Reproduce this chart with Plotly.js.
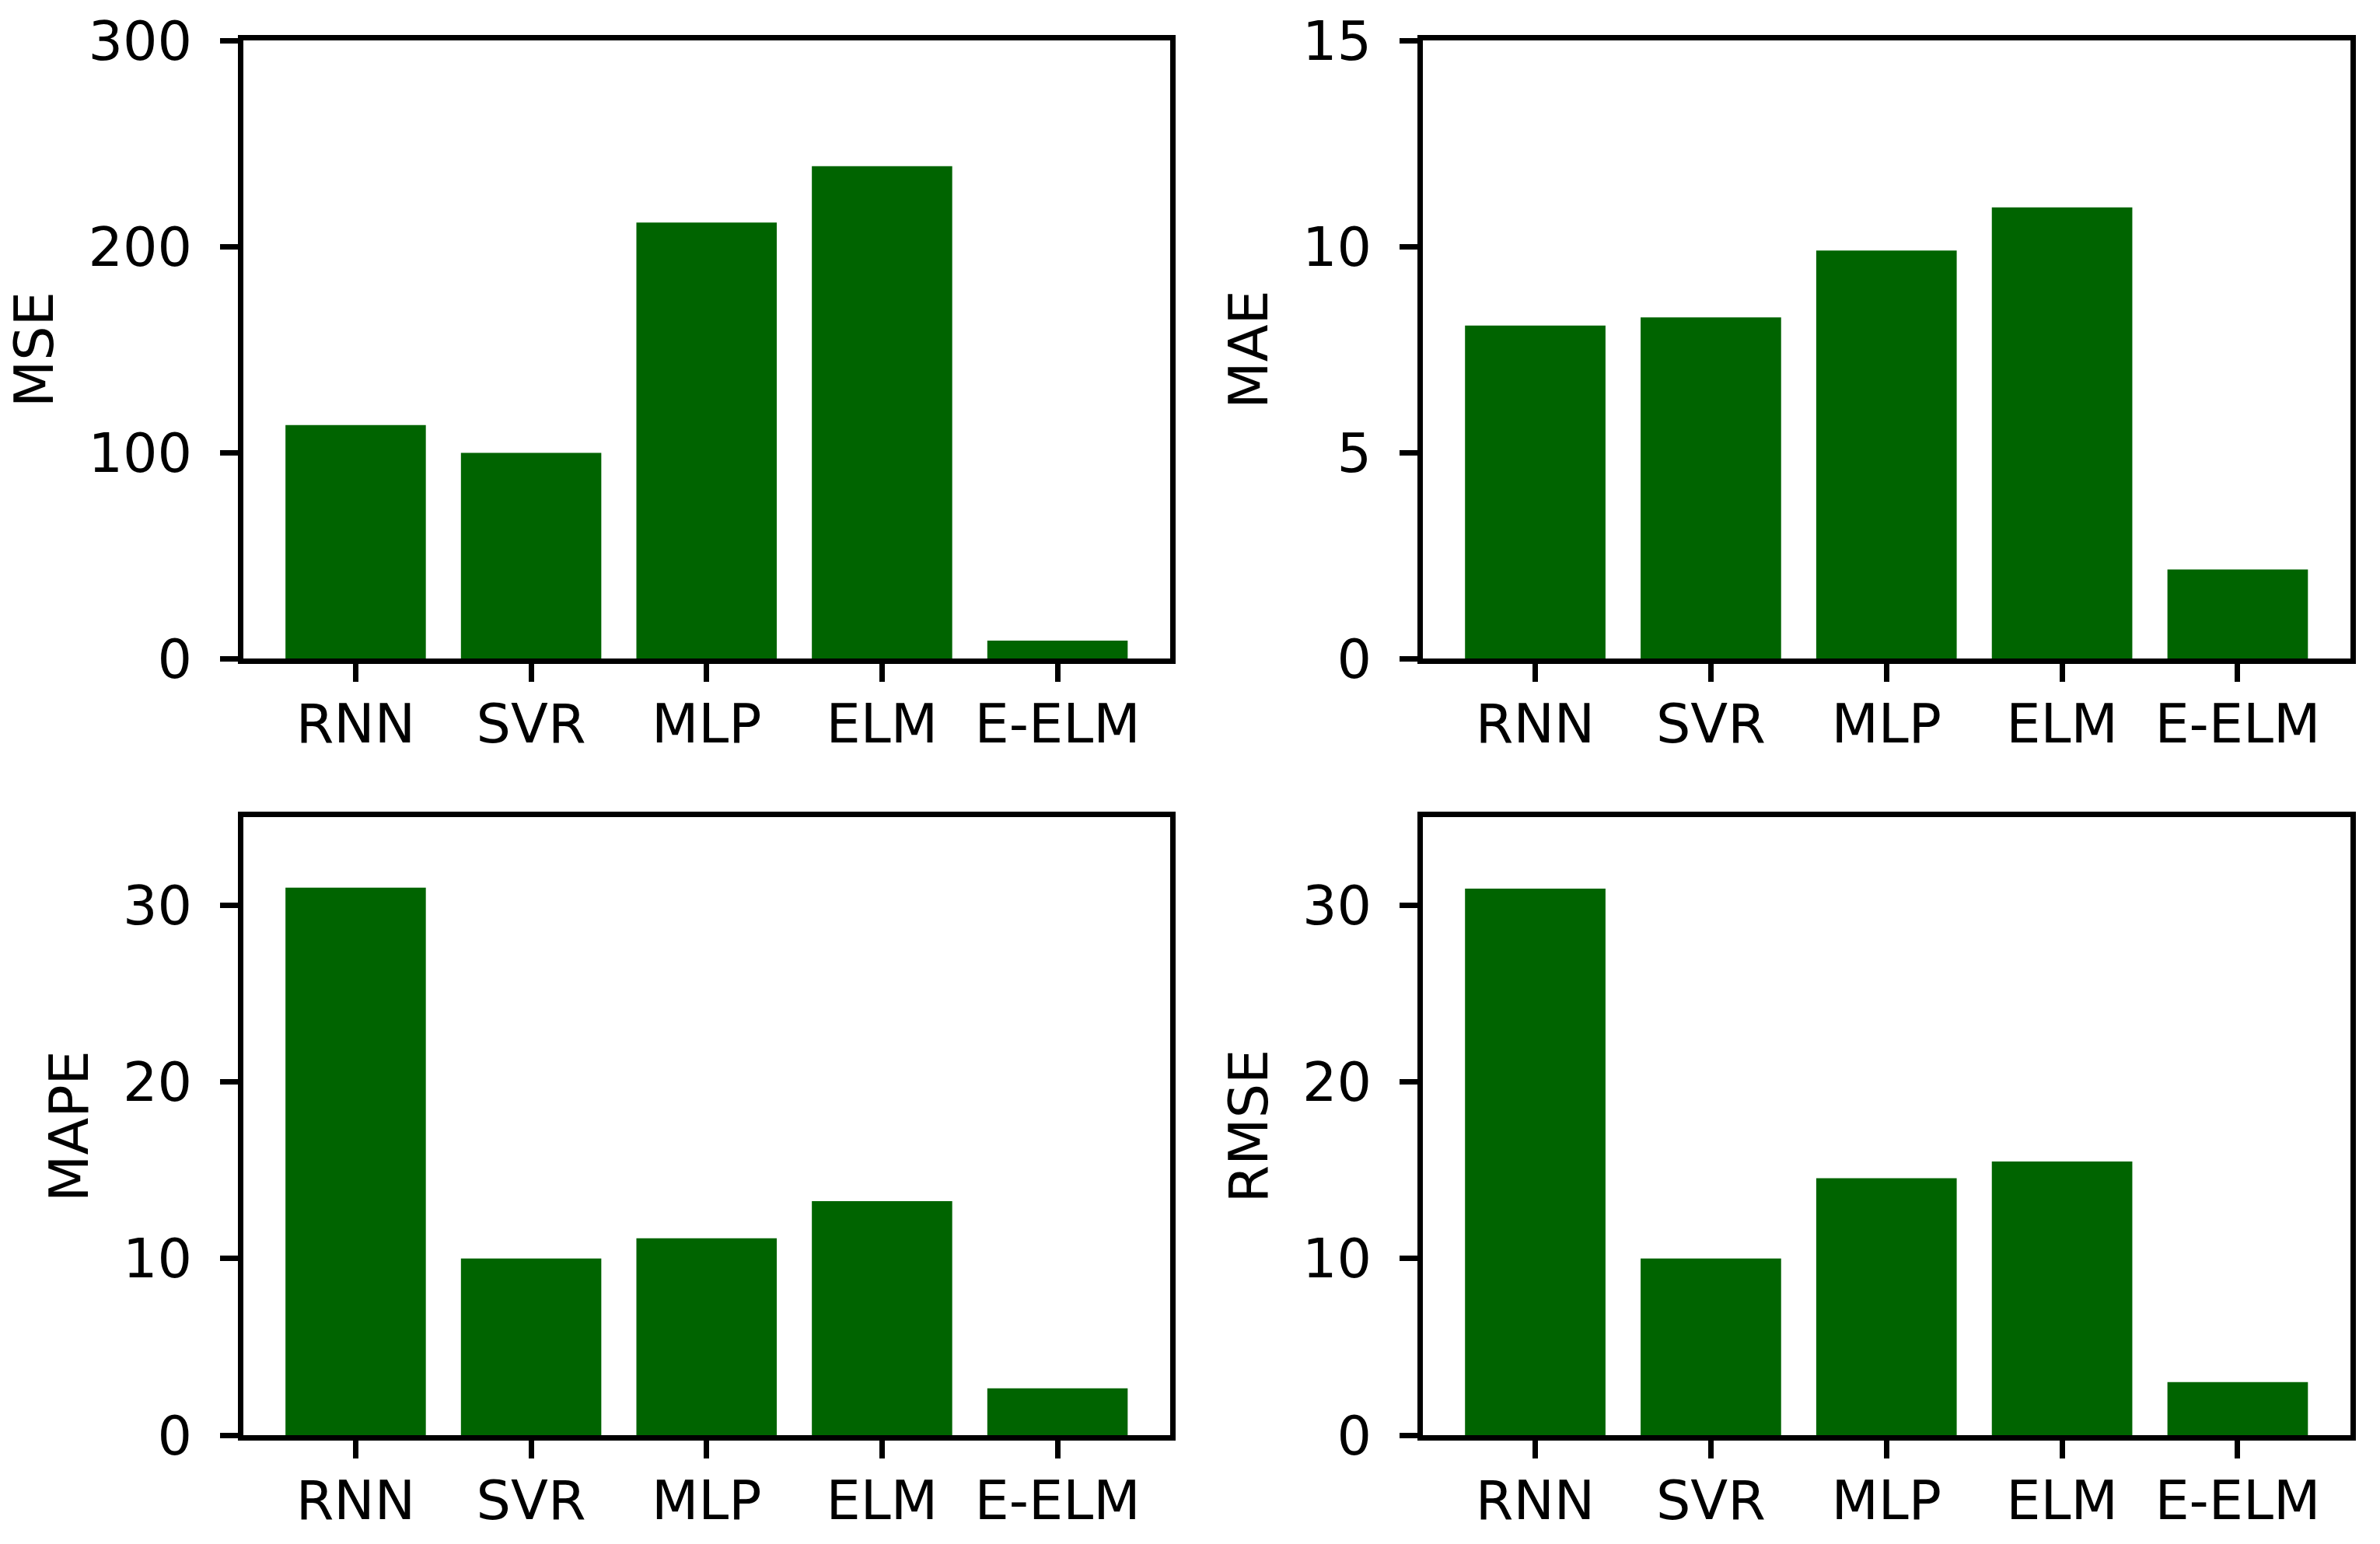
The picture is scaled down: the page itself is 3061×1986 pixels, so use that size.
<!DOCTYPE html>
<html>
<head>
<meta charset="utf-8">
<script src="https://cdn.plot.ly/plotly-3.0.1.min.js"></script>
<style>html,body{margin:0;padding:0;background:#fff;}#chart{width:3061px;height:1986px;}</style>
</head>
<body>
<div id="chart"></div>
<script>
const categories = ["RNN", "SVR", "MLP", "ELM", "E-ELM"];
const mseValues  = [113.3, 99.8, 211.6, 239.0, 8.7];
const maeValues  = [8.08, 8.28, 9.90, 10.95, 2.16];
const mapeValues = [31.0, 10.0, 11.15, 13.25, 2.65];
const rmseValues = [30.95, 10.0, 14.55, 15.5, 3.0];

const mseTicks  = [0, 100, 200, 300];
const maeTicks  = [0, 5, 10, 15];
const mapeTicks = [0, 10, 20, 30];
const rmseTicks = [0, 10, 20, 30];

const barColor = "#006400";
const FONT = "DejaVu Sans";
const FS = 70;
const LW = 7;

function bar(vals, xa, ya) {
  return {type: "bar", x: categories, y: vals, xaxis: xa, yaxis: ya,
          marker: {color: barColor, line: {width: 0}}, hoverinfo: "x+y"};
}
const data = [
  bar(mseValues, "x", "y"),
  bar(maeValues, "x2", "y2"),
  bar(mapeValues, "x3", "y3"),
  bar(rmseValues, "x4", "y4")
];

const W = 3061, H = 1986;
const colL = [313 / W, 1504.5 / W];
const colR = [1830 / W, 3022.5 / W];
const rowT = [1 - 847 / H, 1 - 52 / H];
const rowB = [1 - 1846 / H, 1 - 1051 / H];

function xax(dom, anchor) {
  return {domain: dom, anchor: anchor, type: "category", range: [-0.64, 4.64],
          showline: true, linewidth: LW, linecolor: "black", mirror: true,
          ticks: "outside", ticklen: 23, tickwidth: LW, tickcolor: "black",
          ticklabelstandoff: -6,
          showgrid: false, zeroline: false, fixedrange: true,
          tickfont: {family: FONT, size: FS, color: "black"}};
}
function yax(dom, anchor, range, tv, title) {
  return {domain: dom, anchor: anchor, range: range, tickmode: "array", tickvals: tv,
          ticktext: tv.map(String),
          showline: true, linewidth: LW, linecolor: "black", mirror: true,
          ticks: "outside", ticklen: 23, tickwidth: LW, tickcolor: "black",
          ticklabelstandoff: 22,
          showgrid: false, zeroline: false, fixedrange: true,
          tickfont: {family: FONT, size: FS, color: "black"},
          title: {text: title, font: {family: FONT, size: FS, color: "black"}, standoff: 24}};
}

const layout = {
  width: W, height: H,
  margin: {l: 0, r: 0, t: 0, b: 0},
  paper_bgcolor: "white", plot_bgcolor: "white",
  showlegend: false, bargap: 0.2,
  font: {family: FONT, size: FS, color: "black"},
  xaxis:  xax(colL, "y"),
  yaxis:  yax(rowT, "x", [0, 300], mseTicks, "MSE"),
  xaxis2: xax(colR, "y2"),
  yaxis2: yax(rowT, "x2", [0, 15], maeTicks, "MAE"),
  xaxis3: xax(colL, "y3"),
  yaxis3: yax(rowB, "x3", [0, 35], mapeTicks, "MAPE"),
  xaxis4: xax(colR, "y4"),
  yaxis4: yax(rowB, "x4", [0, 35], rmseTicks, "RMSE")
};

Plotly.newPlot("chart", data, layout, {displayModeBar: false, staticPlot: true});
</script>
</body>
</html>
